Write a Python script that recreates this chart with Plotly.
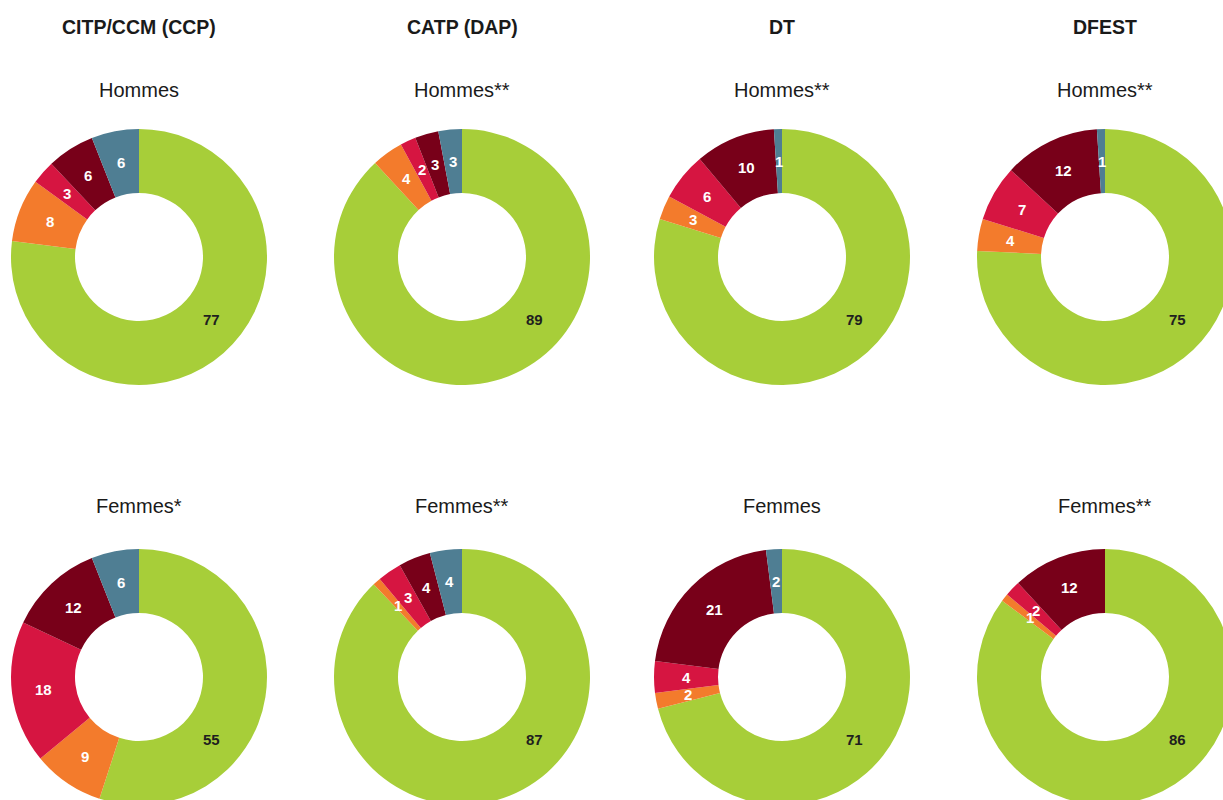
import numpy as np
import plotly.graph_objects as go

# ---------------- data ----------------
programmes = ["CITP/CCM (CCP)", "CATP (DAP)", "DT", "DFEST"]
segments = ["Catégorie 1", "Catégorie 2", "Catégorie 3", "Catégorie 4", "Catégorie 5"]

hommes_citp = [77, 8, 3, 6, 6]
hommes_catp = [89, 4, 2, 3, 3]
hommes_dt = [79, 3, 6, 10, 1]
hommes_dfest = [75, 4, 7, 12, 1]

femmes_citp = [55, 9, 18, 12, 6]
femmes_catp = [87, 1, 3, 4, 4]
femmes_dt = [71, 2, 4, 21, 2]
femmes_dfest = [86, 1, 2, 12, 0]

subtitles_hommes = ["Hommes", "Hommes**", "Hommes**", "Hommes**"]
subtitles_femmes = ["Femmes*", "Femmes**", "Femmes", "Femmes**"]

# ---------------- style ----------------
colors = ["#A7CE39", "#F37B2C", "#D61541", "#780019", "#4F7E93"]
label_colors = ["#1f1f1f", "white", "white", "white", "white"]

W, H = 1240, 820
col_cx = [139, 462, 782, 1105]
row_cy = [257, 677]
R = 128
HOLE = 0.5
LABEL_R = R * (1 + HOLE) / 2
MAIN_LABEL_ANGLE = 131.0  # degrees clockwise from 12 o'clock for the largest slice label

font_family = "Liberation Sans Narrow, Arial Narrow, Liberation Sans, Arial, sans-serif"
label_font_family = "Liberation Sans, Arial, sans-serif"

rows = [
    (subtitles_hommes, [hommes_citp, hommes_catp, hommes_dt, hommes_dfest]),
    (subtitles_femmes, [femmes_citp, femmes_catp, femmes_dt, femmes_dfest]),
]

fig = go.Figure()
annotations = []

for c, prog in enumerate(programmes):
    annotations.append(dict(
        text="<b>" + prog + "</b>", x=col_cx[c] / W, y=1 - 27 / H,
        xref="paper", yref="paper", xanchor="center", yanchor="middle",
        showarrow=False, font=dict(family=font_family, size=19.5, color="#1a1a1a")))

for r, (subs, series) in enumerate(rows):
    cy = row_cy[r]
    sub_y = 90 if r == 0 else 506
    for c, vals in enumerate(series):
        cx = col_cx[c]
        fig.add_trace(go.Pie(
            values=vals, labels=segments, sort=False, direction="clockwise",
            rotation=0, hole=HOLE, textinfo="none",
            marker=dict(colors=colors, line=dict(width=0)),
            domain=dict(x=[(cx - R) / W, (cx + R) / W],
                        y=[1 - (cy + R) / H, 1 - (cy - R) / H]),
            showlegend=False,
            hovertemplate="%{label}: %{value}<extra></extra>",
        ))
        annotations.append(dict(
            text=subs[c], x=cx / W, y=1 - sub_y / H,
            xref="paper", yref="paper", xanchor="center", yanchor="middle",
            showarrow=False,
            font=dict(family=font_family, size=20, color="#1a1a1a")))
        arr = np.array(vals, dtype=float)
        total = arr.sum()
        cum = np.concatenate([[0], np.cumsum(arr)]) / total
        for k, v in enumerate(vals):
            if v <= 0:
                continue
            if k == 0:
                ang = np.radians(MAIN_LABEL_ANGLE)
            else:
                ang = np.pi * (cum[k] + cum[k + 1])
            px = cx + LABEL_R * np.sin(ang)
            py = cy - LABEL_R * np.cos(ang)
            annotations.append(dict(
                text="<b>%d</b>" % v, x=px / W, y=1 - py / H,
                xref="paper", yref="paper", xanchor="center", yanchor="middle",
                showarrow=False,
                font=dict(family=label_font_family, size=15, color=label_colors[k])))

fig.update_layout(
    width=W, height=H,
    margin=dict(l=0, r=0, t=0, b=0),
    paper_bgcolor="white", plot_bgcolor="white",
    annotations=annotations,
)

fig.write_html(
    "out.html",
    config={"displayModeBar": False},
    post_script="document.body.style.margin='0';document.body.style.overflow='hidden';"
                "document.documentElement.style.overflow='hidden';",
)
